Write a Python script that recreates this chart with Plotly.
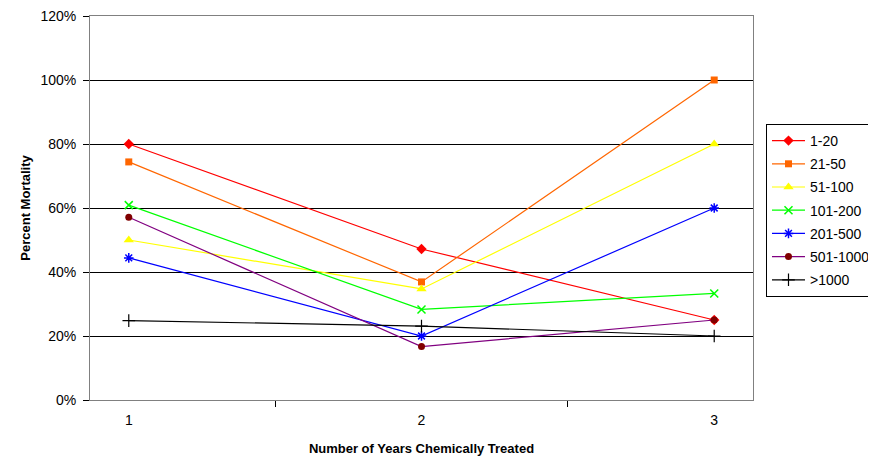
import plotly.graph_objects as go

years = ["1", "2", "3"]
series_names = ["1-20", "21-50", "51-100", "101-200", "201-500", "501-1000", ">1000"]
v_1_20 = [80.0, 47.2, 25.0]
v_21_50 = [74.4, 36.9, 100.0]
v_51_100 = [50.0, 34.7, 80.0]
v_101_200 = [60.9, 28.3, 33.3]
v_201_500 = [44.4, 20.0, 60.0]
v_501_1000 = [57.1, 16.7, 25.0]
v_gt_1000 = [24.8, 23.1, 20.0]
series_values = [v_1_20, v_21_50, v_51_100, v_101_200, v_201_500, v_501_1000, v_gt_1000]
y_ticks = [0, 20, 40, 60, 80, 100, 120]
y_tick_labels = ["0%", "20%", "40%", "60%", "80%", "100%", "120%"]

styles = [
    dict(line="#FF0000", marker=dict(symbol="diamond", color="#FF0000", size=8)),
    dict(line="#FF6600", marker=dict(symbol="square", color="#FF6600", size=7)),
    dict(line="#FFFF00", marker=dict(symbol="triangle-up", color="#FFFF00", size=9)),
    dict(line="#00FF00", marker=dict(symbol="x-thin-open", color="#00FF00", size=8,
                                     line=dict(color="#00FF00", width=1.5))),
    dict(line="#0000FF", marker=dict(symbol="asterisk-open", color="#0000FF", size=8,
                                     line=dict(color="#0000FF", width=1.5))),
    dict(line="#800080", marker=dict(symbol="circle", color="#800000", size=7)),
    dict(line="#000000", marker=dict(symbol="cross-thin-open", color="#000000", size=9,
                                     line=dict(color="#000000", width=1.2))),
]

fig = go.Figure()
for i, (name, vals, st) in enumerate(zip(series_names, series_values, styles)):
    fig.add_trace(go.Scatter(
        x=years, y=vals, name=name, mode="lines+markers",
        line=dict(color=st["line"], width=1.2),
        marker=st["marker"], legendgroup=f"g{i}",
    ))

font_family = "Liberation Sans, Arial, sans-serif"

fig.update_layout(
    width=868, height=448,
    margin=dict(l=82, r=123, t=8, b=56, autoexpand=False),
    paper_bgcolor="white", plot_bgcolor="white",
    font=dict(family=font_family, size=13, color="black"),
    showlegend=True,
    legend=dict(
        x=1.0196, y=0.71875, xanchor="left", yanchor="top",
        bordercolor="black", borderwidth=1, bgcolor="white",
        font=dict(size=14, family=font_family), tracegroupgap=2,
        itemwidth=33,
    ),
    xaxis=dict(
        type="category", tickson="boundaries", ticks="outside", ticklen=6,
        tickcolor="black", showgrid=False, showline=True, linecolor="#808080",
        linewidth=1, mirror=True, tickfont=dict(size=14), ticklabelstandoff=7,
        title=dict(text="<b>Number of Years Chemically Treated</b>",
                   font=dict(size=13), standoff=20),
    ),
    yaxis=dict(
        range=[0, 120], tickvals=y_ticks, ticktext=y_tick_labels, ticks="outside",
        ticklen=6, tickcolor="black", showgrid=True, gridcolor="black",
        gridwidth=1, showline=True, linecolor="#808080", linewidth=1,
        mirror=True, zeroline=False, tickfont=dict(size=14), ticklabelstandoff=4,
        ticklabeloverflow="allow",
        title=dict(text="<b>Percent Mortality</b>", font=dict(size=13), standoff=6),
    ),
    shapes=[
        dict(type="line", xref="paper", yref="paper", x0=1.1795, x1=1.1795,
             y0=-0.2, y1=1.1, layer="above", line=dict(width=5, color="#1a1a4a")),
    ],
)

fig.write_html("out.html")
